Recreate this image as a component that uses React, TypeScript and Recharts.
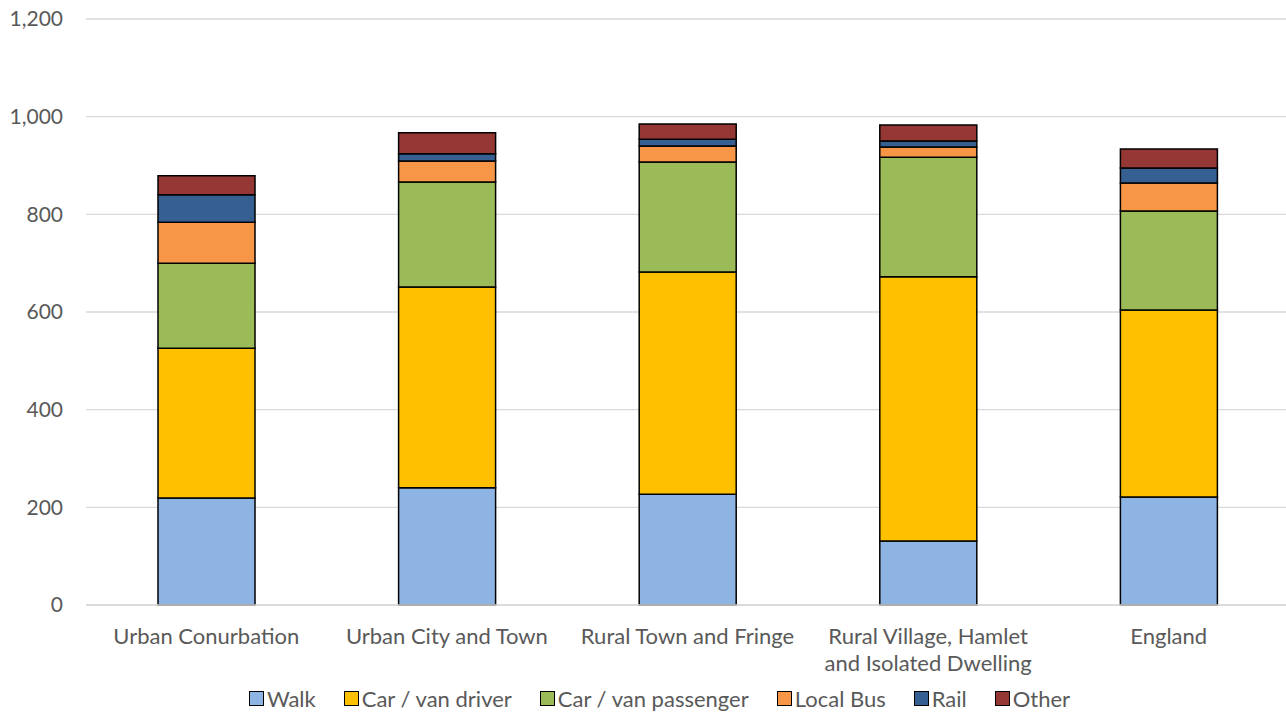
import React from 'react';
import { BarChart, Bar, XAxis, YAxis, CartesianGrid, Legend } from 'recharts';

const categories = [
  'Urban Conurbation',
  'Urban City and Town',
  'Rural Town and Fringe',
  'Rural Village, Hamlet and Isolated Dwelling',
  'England',
];
const categoryLines: string[][] = [
  ['Urban Conurbation'],
  ['Urban City and Town'],
  ['Rural Town and Fringe'],
  ['Rural Village, Hamlet', 'and Isolated Dwelling'],
  ['England'],
];
const walk = [219, 240, 227, 131, 221];
const carDriver = [307, 411, 455, 541, 383];
const carPassenger = [174, 215, 225, 245, 203];
const localBus = [84, 43, 33, 21, 57];
const rail = [56, 15, 14, 12, 31];
const other = [39, 43, 31, 33, 39];
const yTicks = [0, 200, 400, 600, 800, 1000, 1200];

const series = [
  { key: 'walk', name: 'Walk', color: '#8EB4E3', values: walk },
  { key: 'driver', name: 'Car / van driver', color: '#FFC000', values: carDriver },
  { key: 'passenger', name: 'Car / van passenger', color: '#9BBB59', values: carPassenger },
  { key: 'bus', name: 'Local Bus', color: '#F79646', values: localBus },
  { key: 'rail', name: 'Rail', color: '#376092', values: rail },
  { key: 'other', name: 'Other', color: '#953735', values: other },
];

const data = categories.map((c, i) => {
  const row: Record<string, any> = { category: c, idx: i };
  series.forEach((s) => (row[s.key] = s.values[i]));
  return row;
});

const FONT = 'Lato, "Open Sans", sans-serif';
const TXT = '#595959';

const XTick = (props: any) => {
  const { x, y, index } = props;
  const lines = categoryLines[index] || [String(props.payload.value)];
  return (
    <text x={x} y={y} textAnchor="middle" fill={TXT} fontSize={22} fontFamily={FONT}>
      {lines.map((l, i) => (
        <tspan key={i} x={x} dy={i === 0 ? 31 : 27}>
          {l}
        </tspan>
      ))}
    </text>
  );
};

const LegendContent = () => (
  <div
    style={{
      display: 'flex',
      justifyContent: 'center',
      alignItems: 'center',
      fontFamily: FONT,
      fontSize: 22,
      color: TXT,
      height: 30,
      paddingLeft: 30,
    }}
  >
    {series.map((s, i) => (
      <div
        key={s.key}
        style={{ display: 'flex', alignItems: 'center', marginRight: i === series.length - 1 ? 0 : 28 }}
      >
        <span
          style={{
            width: 13,
            height: 13,
            background: s.color,
            border: '1.5px solid #000',
            display: 'inline-block',
            marginRight: 3,
          }}
        />
        <span>{s.name}</span>
      </div>
    ))}
  </div>
);

export default function App() {
  return (
    <div style={{ position: 'absolute', left: 0, top: 0, width: 1290, height: 713, background: '#fff' }}>
      <BarChart
        width={1290}
        height={713}
        data={data}
        margin={{ top: 19, right: 1, bottom: 0, left: 0 }}
        barSize={97}
      >
        <CartesianGrid vertical={false} stroke="#D9D9D9" strokeWidth={1.3} />
        <XAxis
          dataKey="category"
          interval={0}
          height={78}
          tickLine={false}
          axisLine={{ stroke: '#D9D9D9', strokeWidth: 1.3 }}
          tick={<XTick />}
        />
        <YAxis
          width={86}
          domain={[0, 1200]}
          ticks={yTicks}
          tickLine={false}
          axisLine={false}
          tickSize={0}
          tickMargin={23}
          tickFormatter={(v: number) => v.toLocaleString('en-US')}
          tick={{ fill: TXT, fontSize: 21, fontFamily: FONT }}
        />
        <Legend verticalAlign="bottom" height={30} content={<LegendContent />} />
        {series.map((s) => (
          <Bar
            key={s.key}
            dataKey={s.key}
            name={s.name}
            stackId="a"
            fill={s.color}
            stroke="#000"
            strokeWidth={1.5}
            isAnimationActive={false}
          />
        ))}
      </BarChart>
    </div>
  );
}
